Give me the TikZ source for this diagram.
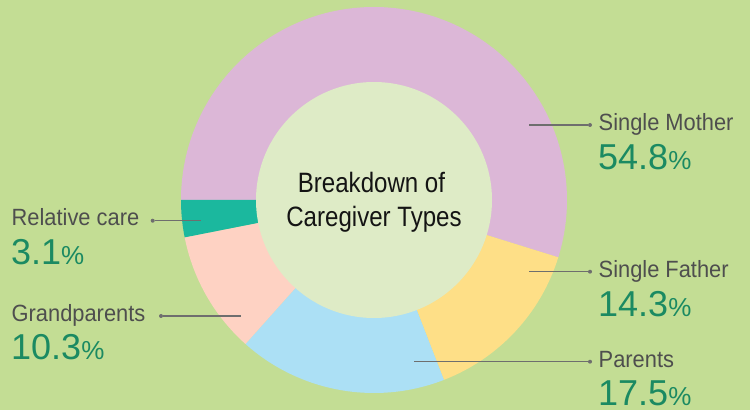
\documentclass[tikz,border=0pt]{standalone}
\usepackage{fontspec}
\setmainfont{Liberation Sans}
\newfontfamily\labfont[FakeStretch=0.93]{Liberation Sans}
\newfontfamily\ctrfont[FakeStretch=0.86]{Liberation Sans}
\newfontfamily\numfont{Liberation Sans}
\definecolor{bgc}{RGB}{195,221,148}
\definecolor{pinkc}{RGB}{220,183,215}
\definecolor{yellowc}{RGB}{254,223,135}
\definecolor{bluec}{RGB}{172,224,245}
\definecolor{peachc}{RGB}{254,210,195}
\definecolor{tealc}{RGB}{27,184,158}
\definecolor{hubc}{RGB}{222,235,198}
\definecolor{labc}{RGB}{78,78,78}
\definecolor{pctc}{RGB}{27,138,98}
\definecolor{leadc}{RGB}{110,110,110}
\newcommand\pctsign{{\fontsize{26}{26}\selectfont\%}}
\tikzset{
  leader/.style={draw=leadc, line width=1.1pt},
  dotmark/.style={circle, fill=leadc, inner sep=0pt, minimum size=4pt},
  lab/.style={font=\labfont\fontsize{23.5}{23.5}\selectfont, text=labc, inner sep=0pt, anchor=base west},
  pct/.style={font=\numfont\fontsize{36}{36}\selectfont, text=pctc, inner sep=0pt, anchor=base west},
  ttl/.style={font=\ctrfont\fontsize{28}{28}\selectfont, text=black!92, inner sep=0pt, anchor=base}
}
\begin{document}
\begin{tikzpicture}[x=1pt,y=1pt]
\useasboundingbox (0,0) rectangle (750,410);
\fill[bgc] (0,0) rectangle (750,410);
\coordinate (c) at (374,210);
% slices
\fill[pinkc] (c) -- ++(180:193) arc[start angle=180, end angle=-17.28, radius=193] -- cycle;
\fill[yellowc] (c) -- ++(-17.28:193) arc[start angle=-17.28, end angle=-68.76, radius=193] -- cycle;
\fill[bluec] (c) -- ++(-68.76:193) arc[start angle=-68.76, end angle=-131.76, radius=193] -- cycle;
\fill[peachc] (c) -- ++(-131.76:193) arc[start angle=-131.76, end angle=-168.84, radius=193] -- cycle;
\fill[tealc] (c) -- ++(-168.84:193) arc[start angle=-168.84, end angle=-180, radius=193] -- cycle;
% hub
\node[circle, fill=hubc, minimum size=236pt, inner sep=0pt] (hub) at (c) {};
\node[ttl] (t1) at (371.5,217) {Breakdown of};
\node[ttl] (t2) at (374,183) {Caregiver Types};
% Single Mother
\coordinate (smA) at (529,285);
\node[dotmark] (smD) at (590,285) {};
\draw[leader] (smA) -- (smD);
\node[lab] (smL) at (598.5,279) {Single Mother};
\node[pct] (smP) at (598,240) {54.8\pctsign};
% Single Father
\coordinate (sfA) at (529,138.3);
\node[dotmark] (sfD) at (590,138.3) {};
\draw[leader] (sfA) -- (sfD);
\node[lab] (sfL) at (598.5,132) {Single Father};
\node[pct] (sfP) at (598,93) {14.3\pctsign};
% Parents
\coordinate (pA) at (414,48.3);
\node[dotmark] (pD) at (590,48.3) {};
\draw[leader] (pA) -- (pD);
\node[lab] (pL) at (598.5,42.5) {Parents};
\node[pct] (pP) at (598,5) {17.5\pctsign};
% Relative care
\coordinate (rcA) at (201,189.3);
\node[dotmark] (rcD) at (152.7,189.3) {};
\draw[leader] (rcD) -- (rcA);
\node[lab] (rcL) at (11.5,184) {Relative care};
\node[pct] (rcP) at (11,145.7) {3.1\pctsign};
% Grandparents
\coordinate (gA) at (240.7,94);
\node[dotmark] (gD) at (161,94) {};
\draw[leader] (gD) -- (gA);
\node[lab] (gL) at (11.5,88.3) {Grandparents};
\node[pct] (gP) at (11,50) {10.3\pctsign};
\end{tikzpicture}
\end{document}
